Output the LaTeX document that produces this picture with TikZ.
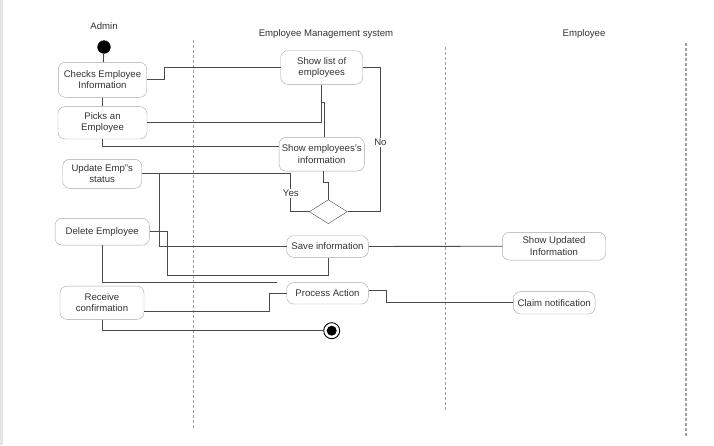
\documentclass[tikz,border=0pt]{standalone}
\usepackage{fontspec}
\setmainfont{Liberation Sans}
\usetikzlibrary{positioning,shapes.geometric}
\definecolor{boxgray}{HTML}{A6A6A6}
\definecolor{linegray}{HTML}{4A4A4A}
\definecolor{txtgray}{HTML}{333333}
\definecolor{lanegray}{HTML}{A0A0A0}

\begin{document}
\begin{tikzpicture}[x=1pt, y=-1pt,
    act/.style={rectangle, draw=boxgray, rounded corners=7pt, fill=white,
        align=center, text=txtgray, inner sep=1pt,
        font=\fontsize{9.6}{11.3}\selectfont},
    decision/.style={diamond, draw=linegray, fill=white, inner sep=0pt,
        minimum width=38pt, minimum height=24pt, aspect=1.6},
    title/.style={text=txtgray, font=\fontsize{9.6}{11.3}\selectfont},
    lane/.style={draw=lanegray, line width=1.3pt, dash pattern=on 3pt off 2pt},
    link/.style={draw=linegray, line width=0.9pt},
    lbl/.style={text=txtgray, fill=white, inner sep=1pt,
        font=\fontsize{9.6}{11.3}\selectfont}
]
\useasboundingbox (0,0) rectangle (714,445);
\fill[white] (0,0) rectangle (714,445);
\fill[black!10] (0,0) rectangle (2.5,445);

% swimlanes
\node (L0) [title] at (104,26) {Admin};
\node (L1) [title] at (326,34) {Employee Management system};
\node (L2) [title] at (584,34) {Employee};
\draw[lane] (193.7,40) -- (193.7,428);
\draw[lane] (445.7,47) -- (445.7,411);
\draw[lane] (686,43) -- (686,436);

% admin
\node (S0) [circle, fill=black, inner sep=0pt, minimum size=13.4pt] at (104,47) {};
\node (S1) [act, minimum width=88.4pt, minimum height=35pt] at (102.5,79.8)
    {Checks Employee\\Information};
\node (S2) [act, minimum width=89pt, minimum height=32.3pt] at (102.5,122.8)
    {Picks an\\Employee};
\node (S3) [act, minimum width=79pt, minimum height=29pt] at (102.2,173.8)
    {Update Emp"s\\status};
\node (S4) [act, minimum width=94.3pt, minimum height=26.7pt] at (102.2,231.7)
    {Delete Employee};
\node (S5) [act, minimum width=84pt, minimum height=33.3pt] at (102,302.7)
    {Receive\\confirmation};

% system
\node (S6) [act, minimum width=82pt, minimum height=33.6pt] at (321.7,67.5)
    {Show list of\\employees};
\node (S7) [act, minimum width=85.3pt, minimum height=33.7pt] at (321.7,154.2)
    {Show employees's\\information};
\node (S8) [decision] at (328.3,211.7) {};
\node (S9) [act, minimum width=81.6pt, minimum height=21.6pt] at (327.5,246.5)
    {Save information};
\node (S10) [act, minimum width=81.6pt, minimum height=21.3pt] at (327.5,293.3)
    {Process Action};
\node (S11) [draw=black, circle, fill=white, line width=0.9pt, inner sep=0pt,
    minimum size=16pt] at (331.7,330.7) {};
\fill (S11) circle (5pt);

% employee
\node (S12) [act, minimum width=103.4pt, minimum height=27.7pt] at (554,246.2)
    {Show Updated\\Information};
\node (S13) [act, minimum width=81.7pt, minimum height=22.3pt] at (554.2,302.8)
    {Claim notification};

% flows
\coordinate (C0) at (277.3,282.3);
\draw[link] (S0) -- (S1);
\draw[link] (S1) -- (S2);
\draw[link] (S1.east) -- ++(17.3,0) |- (S6.west);
\draw[link] (S6.east) -- ++(17.5,0) |- node[lbl, pos=0.26] {No} (S8.east);
\draw[link] (S2.east) -| (S6.south);
\draw[link] (S6.south) -- ++(0,18) -| ([xshift=2.3pt]S7.north);
\draw[link] ([yshift=7.5pt]S7.west) -| (S2.south);
\draw[link] ([xshift=1.6pt]S7.south) -- ++(0,10.7) -| (S8.north);
\draw[link] (S3.east) -| node[lbl, pos=0.757] {Yes} ([xshift=-18.3pt]S8.west)
    -- (S8.west);
\draw[link] (S3.east) -- ++(17.6,0) |- (S9.west);
\draw[link] (S9.east) -- (S12.west);
\draw[link] (S4.east) -- ++(17.4,0) -- ++(0,43.3) -| ([xshift=0.8pt]S9.south);
\draw[link] (S4.south) |- (C0);
\draw[link] ([yshift=-8.3pt]S5.east) -- ++(125.3,0) |- (S10.west);
\draw[link] (S5.south) |- (S11.west);
\draw[link] ([yshift=2.6pt]S10.east) -- ++(17.7,0) |- (S13.west);

\end{tikzpicture}
\end{document}
